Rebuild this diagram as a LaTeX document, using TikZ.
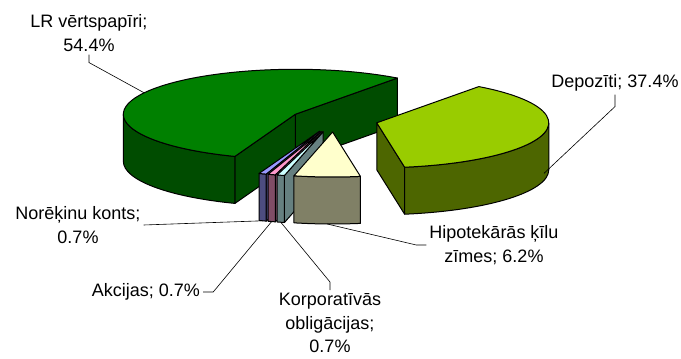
\documentclass[tikz,border=0pt]{standalone}
\usepackage{fontspec}
\setmainfont{Liberation Sans}
\usetikzlibrary{calc, positioning}

\definecolor{lrtop}{HTML}{008000}
\definecolor{lrside}{HTML}{004C00}
\definecolor{deptop}{HTML}{99CC00}
\definecolor{depside}{HTML}{4D6600}
\definecolor{hiptop}{HTML}{FFFFCC}
\definecolor{hipside}{HTML}{808066}
\definecolor{kortop}{HTML}{CCFFFF}
\definecolor{korside}{HTML}{668080}
\definecolor{akctop}{HTML}{FF99CC}
\definecolor{akcside}{HTML}{804D66}
\definecolor{nortop}{HTML}{9999FF}
\definecolor{norside}{HTML}{4D4D80}

% size of the pie
\newcommand{\pierx}{172pt}
\newcommand{\piery}{45pt}
\newcommand{\piedepth}{47pt}

% faces of one slice: apex, angles, colour
\newcommand{\topface}[4]{\filldraw[pie edge, fill=#4] (#1) -- ($(#1)+(#2:{\pierx} and {\piery})$) arc[start angle=#2, end angle=#3, x radius=\pierx, y radius=\piery] -- cycle;}
\newcommand{\sideface}[4]{\filldraw[pie edge, fill=#4] ($(#1)+(#2:{\pierx} and {\piery})$) arc[start angle=#2, end angle=#3, x radius=\pierx, y radius=\piery] -- ++(0,-\piedepth) arc[start angle=#3, end angle=#2, x radius=\pierx, y radius=\piery] -- cycle;}
\newcommand{\radface}[3]{\filldraw[pie edge, fill=#3] (#1) -- ($(#1)+(#2:{\pierx} and {\piery})$) -- ++(0,-\piedepth) -- ($(#1)+(0,-\piedepth)$) -- cycle;}

\tikzset{
  pie edge/.style={draw=black, line width=1pt, line join=round},
  leader/.style={draw=black, line width=0.6pt},
  lbl/.style={align=center, inner sep=3pt, font=\fontsize{18}{23.5}\selectfont}
}

\begin{document}
\begin{tikzpicture}[x=1pt, y=1pt]
	\useasboundingbox (0,0) rectangle (681,359);

	% centre of the pie and the apex of every exploded slice
	\coordinate (c) at (334,239);
	\coordinate (lr) at ($(c)+(151.52:44pt and 12pt)$);
	\coordinate (nor) at ($(c)+(250.7:44pt and 12pt)$);
	\coordinate (akc) at ($(c)+(253.22:44pt and 12pt)$);
	\coordinate (kor) at ($(c)+(255.74:44pt and 12pt)$);
	\coordinate (hip) at ($(c)+(268.16:44pt and 12pt)$);
	\coordinate (dep) at ($(c)+(346.46:44pt and 12pt)$);

	% LR vertspapiri, at the back
	\radface{lr}{53.6}{lrside}
	\radface{lr}{249.44}{lrside}
	\sideface{lr}{180}{249.44}{lrside}
	\topface{lr}{53.6}{249.44}{lrtop}

	% the three thin slices
	\foreach \n/\a/\b/\fc/\sc in {nor/249.44/251.96/nortop/norside, akc/251.96/254.48/akctop/akcside, kor/254.48/257/kortop/korside}{
		\radface{\n}{\b}{\sc}
		\sideface{\n}{\a}{\b}{\sc}
		\topface{\n}{\a}{\b}{\fc}
	}

	% Hipotekaras kilu zimes
	\sideface{hip}{257}{279.32}{hipside}
	\topface{hip}{257}{279.32}{hiptop}

	% Depoziti
	\radface{dep}{279.32}{depside}
	\sideface{dep}{279.32}{360}{depside}
	\topface{dep}{279.32}{413.6}{deptop}

	% points where the leader lines end
	\coordinate (lrpt) at ($(lr)+(151.52:{\pierx} and {\piery})$);
	\coordinate (norpt) at ($(nor)+(250.7:{\pierx} and {\piery})+(0,-\piedepth)$);
	\coordinate (akcpt) at ($(akc)+(253.22:{\pierx} and {\piery})+(0,-\piedepth)$);
	\coordinate (korpt) at ($(kor)+(255.74:{\pierx} and {\piery})+(0,-\piedepth)$);
	\coordinate (hippt) at ($(hip)+(268.16:{\pierx} and {\piery})+(0,-\piedepth)$);
	\coordinate (deppt) at ($(dep)+(346.46:{\pierx} and {\piery})+(0,-40)$);

	% labels
	\node[lbl] (lrlab) at (89,326) {LR vērtspapīri;\\54.4\%};
	\node[lbl] (deplab) at (615,276) {Depozīti; 37.4\%};
	\node[lbl] (norlab) at (78,134) {Norēķinu konts;\\0.7\%};
	\node[lbl] (akclab) at (146,67) {Akcijas; 0.7\%};
	\node[lbl] (korlab) at (330,36) {Korporatīvās\\obligācijas;\\0.7\%};
	\node[lbl] (hiplab) at (494,114) {Hipotekārās ķīlu\\zīmes; 6.2\%};

	\draw[leader] (lrlab.south) -- ++(0,-8) -- (lrpt);
	\draw[leader] (deplab.south) -- ++(0,-12) -- (deppt);
	\draw[leader] (norlab.east) -- (norpt);
	\draw[leader] (akclab.east) -- ++(10,0) -- (akcpt);
	\draw[leader] (korlab.north) -- ++(0,8) -- (korpt);
	\draw[leader] (hiplab.west) -- ++(-10,0) -- (hippt);
\end{tikzpicture}
\end{document}
